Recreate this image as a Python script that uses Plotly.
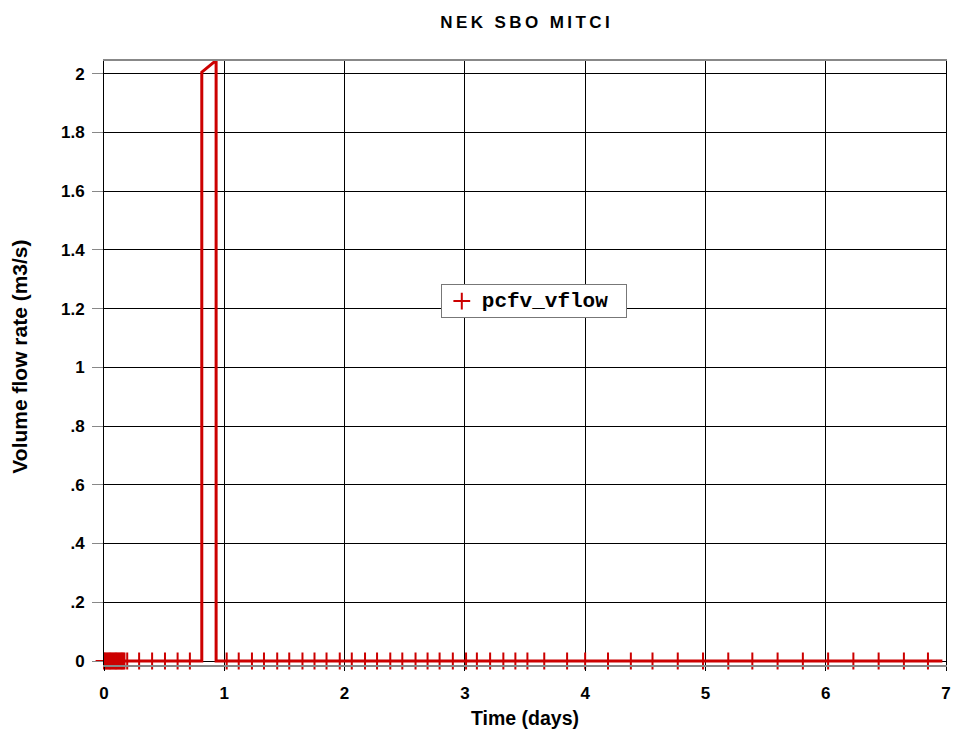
import plotly.graph_objects as go

# Main line (time in days, volume flow rate m3/s)
line_t = [0.0, 0.813, 0.813, 0.932, 0.932, 6.97]
line_v = [0.0, 0.0, 2.005, 2.045, 0.0, 0.0]

# Positions of the "+" markers along the curve
marker_t = [0.00, 0.01, 0.02, 0.03, 0.04, 0.05, 0.06, 0.07, 0.08, 0.09,
            0.10, 0.11, 0.12, 0.13, 0.14, 0.15, 0.16, 0.17,
            0.193, 0.292, 0.40, 0.507, 0.612, 0.714,
            1.02, 1.12, 1.23, 1.33, 1.44, 1.54, 1.65, 1.75, 1.85, 1.96,
            2.06, 2.17, 2.27, 2.38, 2.48, 2.59, 2.69, 2.79, 2.90,
            3.01, 3.10, 3.21, 3.32, 3.42, 3.52, 3.66, 3.85, 4.00,
            4.19, 4.38, 4.56, 4.77, 4.98, 5.19, 5.39, 5.60, 5.81,
            6.02, 6.23, 6.44, 6.65, 6.85]
marker_v = [0.0] * len(marker_t)

y_tickvals = [0, 0.2, 0.4, 0.6, 0.8, 1, 1.2, 1.4, 1.6, 1.8, 2]
y_ticktext = ["0", ".2", ".4", ".6", ".8", "1", "1.2", "1.4", "1.6", "1.8", "2"]
x_tickvals = [0, 1, 2, 3, 4, 5, 6, 7]

RED = "#cc0000"
FONT = "Liberation Sans, Arial, sans-serif"
TS = "\u2009"

fig = go.Figure()
fig.add_trace(go.Scatter(x=line_t, y=line_v, mode="lines",
                         line=dict(color=RED, width=3), showlegend=False,
                         hoverinfo="skip"))
fig.add_trace(go.Scatter(x=marker_t, y=marker_v, mode="markers",
                         name='<span style="font-size:21px"><b>pcfv_vflow</b>\u00a0</span>',
                         marker=dict(symbol="cross-thin", size=12,
                                     line=dict(color=RED, width=2), color=RED),
                         cliponaxis=False))

title_txt = (TS.join("NEK") + TS + " " + TS + TS.join("SBO") + TS + " " + TS
             + TS.join("MITCI"))

fig.update_layout(
    width=956, height=733,
    margin=dict(l=104, r=5, t=61, b=68),
    plot_bgcolor="white", paper_bgcolor="white",
    title=dict(text="<b>" + title_txt + "</b>",
               x=0.5, xref="paper", xanchor="center",
               y=1 - 22 / 733, yref="container", yanchor="middle",
               font=dict(family=FONT, size=17, color="black")),
    legend=dict(x=0.4, y=0.63, xanchor="left", yanchor="top",
                bgcolor="white", bordercolor="#777777", borderwidth=1,
                tracegroupgap=0,
                font=dict(family="Liberation Mono, Courier New, monospace",
                          size=14, color="black")),
    xaxis=dict(range=[0, 7], tickvals=x_tickvals,
               showgrid=True, gridcolor="black", gridwidth=1,
               showline=True, linecolor="#888888", linewidth=2, mirror=True,
               ticks="outside", ticklen=4, tickcolor="black", tickwidth=1,
               ticklabelstandoff=8,
               tickfont=dict(family=FONT, size=17, color="black", weight="bold"),
               zeroline=False),
    yaxis=dict(range=[-0.0136, 2.043], tickvals=y_tickvals, ticktext=y_ticktext,
               showgrid=True, gridcolor="black", gridwidth=1,
               showline=True, linecolor="black", linewidth=1, mirror=True,
               ticks="outside", ticklen=11, tickcolor="#888888", tickwidth=1,
               ticklabelstandoff=4,
               tickfont=dict(family=FONT, size=17, color="black", weight="bold"),
               zeroline=False),
    annotations=[
        dict(text="<b>Time (days)</b>", xref="paper", yref="paper",
             x=0.5, y=(665 - 718) / 604.3, xanchor="center", yanchor="middle",
             showarrow=False, font=dict(family=FONT, size=19.5, color="black")),
        dict(text="<b>Volume flow rate (m3/s)</b>", xref="paper", yref="paper",
             x=(19 - 104) / 846.7, y=(665 - 356) / 604.3, textangle=-90,
             xanchor="center", yanchor="middle",
             showarrow=False, font=dict(family=FONT, size=21, color="black")),
    ],
)

fig.write_html("out.html")
